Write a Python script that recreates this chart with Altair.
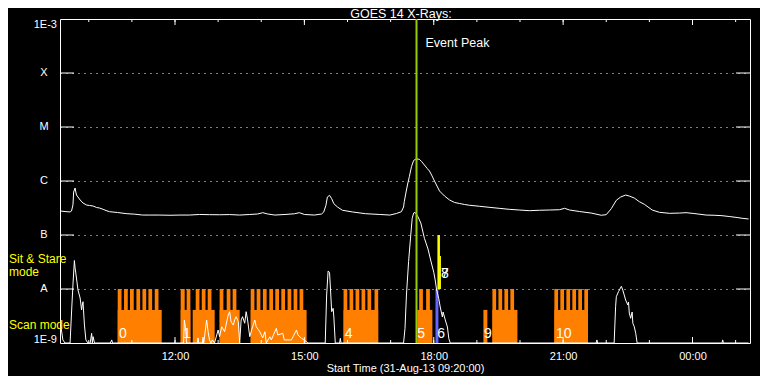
import altair as alt
import pandas as pd

# ---------------- data (time = minutes after 31-Aug-13 09:20:00, flux in W/m^2) -------------
long_t = [1, 7, 14, 16, 18, 19, 21, 22, 23, 28, 32, 37, 41, 46, 51, 55, 60, 64, 69, 80, 93, 104,
          115, 125, 139, 153, 167, 180, 194, 208, 222, 236, 250, 264, 275, 282, 289, 299, 313, 326,
          333, 340, 354, 364, 367, 370, 372, 375, 378, 381, 386, 393, 407, 425, 445, 459, 468, 475,
          478, 479, 482, 484, 486, 489, 492, 495, 498, 500, 503, 507, 511, 514, 517, 521, 528, 535,
          542, 549, 556, 563, 570, 584, 597, 611, 625, 639, 653, 667, 681, 695, 702, 709, 723, 739,
          753, 760, 767, 774, 780, 787, 792, 799, 806, 813, 824, 834, 848, 862, 871, 882, 899, 910,
          921, 931, 942, 949, 958]
long_f = [2.78e-7, 2.72e-7, 2.67e-7, 2.78e-7, 3.59e-7, 6.25e-7, 7.42e-7, 6.25e-7, 5.50e-7, 4.45e-7,
          3.91e-7, 3.59e-7, 3.52e-7, 3.44e-7, 3.23e-7, 3.16e-7, 2.99e-7, 2.84e-7, 2.70e-7, 2.61e-7,
          2.48e-7, 2.43e-7, 2.34e-7, 2.34e-7, 2.34e-7, 2.32e-7, 2.34e-7, 2.34e-7, 2.40e-7, 2.38e-7,
          2.37e-7, 2.39e-7, 2.34e-7, 2.40e-7, 2.45e-7, 2.59e-7, 2.45e-7, 2.34e-7, 2.40e-7, 2.47e-7,
          2.59e-7, 2.40e-7, 2.34e-7, 2.45e-7, 2.67e-7, 3.55e-7, 5.05e-7, 5.43e-7, 4.70e-7, 3.80e-7,
          3.30e-7, 2.87e-7, 2.67e-7, 2.48e-7, 2.40e-7, 2.34e-7, 2.50e-7, 2.70e-7, 3.30e-7, 4.14e-7,
          6.81e-7, 9.18e-7, 1.20e-6, 1.84e-6, 2.40e-6, 2.55e-6, 2.55e-6, 2.52e-6, 2.30e-6, 1.98e-6,
          1.70e-6, 1.53e-6, 1.29e-6, 1.00e-6, 6.53e-7, 5.27e-7, 4.45e-7, 4.00e-7, 3.83e-7, 3.67e-7,
          3.55e-7, 3.40e-7, 3.26e-7, 3.12e-7, 2.99e-7, 2.90e-7, 2.82e-7, 2.87e-7, 2.90e-7, 2.94e-7,
          3.12e-7, 2.90e-7, 2.72e-7, 2.55e-7, 2.32e-7, 2.38e-7, 3.07e-7, 4.39e-7, 5.05e-7, 5.50e-7,
          5.27e-7, 4.84e-7, 4.14e-7, 3.70e-7, 2.90e-7, 2.63e-7, 2.52e-7, 2.55e-7, 2.59e-7, 2.50e-7,
          2.34e-7, 2.32e-7, 2.28e-7, 2.20e-7, 2.11e-7, 2.04e-7, 1.98e-7]

short_t = [1, 2, 4, 7, 14, 16, 18, 20, 21, 22, 25, 28, 30, 31, 32, 34, 36, 39, 42, 44, 45, 46, 48,
           70, 72, 73, 172, 173, 175, 176, 191, 192, 193, 198, 199, 200, 204, 206, 208, 210, 212,
           215, 220, 222, 225, 229, 231, 234, 236, 238, 241, 243, 245, 248, 250, 252, 254, 257, 259,
           261, 264, 268, 271, 273, 278, 282, 285, 287, 292, 294, 301, 303, 310, 312, 322, 329, 331,
           336, 340, 345, 369, 371, 373, 375, 376, 378, 380, 381, 383, 389, 390, 391, 478, 480, 482,
           485, 488, 490, 492, 494, 498, 502, 507, 512, 516, 520, 522, 524, 527, 529, 532, 533, 536,
           539, 541, 543, 746, 747, 748, 771, 773, 774, 777, 781, 783, 785, 787, 790, 791, 792, 794,
           796, 797, 799, 801, 803, 921, 922, 923, 958]
short_f = [2.15e-9, 1.74e-9, 1.14e-9, 1.0e-9, 1.0e-9, 3.59e-9, 1.19e-8, 3.37e-8, 2.45e-8, 1.98e-8,
           9.58e-9, 6.81e-9, 4.08e-9, 5.05e-9, 5.82e-9, 2.15e-9, 1.14e-9, 1.0e-9, 1.0e-9, 1.51e-9,
           1.0e-9, 1.31e-9, 1.0e-9, 1.0e-9, 1.14e-9, 1.0e-9, 1.0e-9, 2.67e-9, 1.74e-9, 1.0e-9,
           1.0e-9, 1.24e-9, 1.0e-9, 1.0e-9, 1.29e-9, 1.0e-9, 2.67e-9, 1.62e-9, 1.14e-9, 1.0e-9,
           1.14e-9, 1.0e-9, 1.74e-9, 1.31e-9, 2.0e-9, 1.62e-9, 2.15e-9, 3.30e-9, 3.80e-9, 2.48e-9,
           2.15e-9, 2.67e-9, 3.07e-9, 2.48e-9, 1.0e-9, 2.67e-9, 3.07e-9, 2.32e-9, 3.80e-9, 2.67e-9,
           1.31e-9, 2.0e-9, 2.67e-9, 2.0e-9, 1.62e-9, 1.24e-9, 1.62e-9, 1.0e-9, 1.31e-9, 1.14e-9,
           1.87e-9, 1.41e-9, 1.51e-9, 1.14e-9, 1.14e-9, 1.74e-9, 1.41e-9, 1.22e-9, 1.14e-9, 1.0e-9,
           1.0e-9, 7.74e-9, 2.15e-8, 2.04e-8, 1.19e-8, 3.80e-9, 4.39e-9, 3.03e-9, 1.0e-9, 1.0e-9,
           1.22e-9, 1.0e-9, 1.0e-9, 1.87e-9, 7.74e-9, 3.24e-8, 1.0e-7, 2.04e-7, 2.55e-7, 2.62e-7,
           2.18e-7, 1.67e-7, 8.69e-8, 5.50e-8, 3.30e-8, 2.04e-8, 1.47e-8, 9.58e-9, 6.61e-9, 4.64e-9,
           3.03e-9, 3.75e-9, 2.67e-9, 1.98e-9, 1.20e-9, 1.0e-9, 1.0e-9, 1.14e-9, 1.0e-9, 1.0e-9,
           4.70e-9, 7.20e-9, 8.91e-9, 1.12e-8, 9.58e-9, 7.74e-9, 6.25e-9, 5.05e-9, 5.75e-9, 3.59e-9,
           2.87e-9, 3.75e-9, 2.32e-9, 2.0e-9, 1.51e-9, 1.0e-9, 1.0e-9, 1.14e-9, 1.0e-9, 1.0e-9]

# scan-mode rasters: low "base" blocks and tall step bars (start, end in minutes)
scan_base_start = [80.3, 167.9, 184.6, 222.1, 265.3, 394.5, 497.2, 589.1, 601.6, 687.8]
scan_base_end = [141.5, 181.4, 215.2, 250.0, 343.1, 442.7, 518.1, 594.6, 636.4, 734.6]
scan_tall_start = [80.3, 89.1, 97.4, 106.3, 114.7, 123.0, 131.8,
                   167.9, 176.2, 188.8, 197.2, 205.5, 222.1, 231.9, 240.2,
                   265.3, 273.6, 282.3, 291.2, 299.5, 307.9, 316.6, 325.0, 333.3,
                   394.5, 402.8, 411.2, 419.5, 427.8, 437.6,
                   499.7, 509.4,
                   601.6, 610.0, 618.3, 626.6,
                   687.8, 696.1, 704.5, 712.8, 721.1, 729.5]
scan_tall_end = [85.6, 94.3, 102.6, 111.5, 119.9, 128.2, 137.0,
                 173.5, 181.4, 194.0, 202.4, 210.7, 227.3, 237.1, 245.4,
                 270.5, 278.8, 287.5, 296.4, 304.7, 313.1, 321.8, 330.2, 338.5,
                 399.7, 408.0, 416.4, 424.7, 433.0, 442.7,
                 504.9, 514.6,
                 606.8, 615.2, 623.5, 631.8,
                 693.0, 701.3, 709.7, 718.0, 726.3, 734.6]
blue_start, blue_end = [522.4], [526.5]
ss_start = [525.1, 527.9]
ss_end = [528.6, 530.0]
ss_top = [1.0e-7, 4.08e-8]

FLOOR, BASE_TOP, SCAN_TOP = 1e-9, 4.1e-9, 1e-8

raster_labels = ["0", "1", "4", "5", "6", "9", "10"]
raster_label_t = [82, 171, 396, 497, 525, 590, 690]
ss_labels = ["7", "8"]
ss_label_t = [530, 530]

peak_t = [496]

class_levels = [1e-9, 1e-8, 1e-7, 1e-6, 1e-5, 1e-4, 1e-3]
class_names = ["1E-9", "A", "B", "C", "M", "X", "1E-3"]

hour_ticks = [40, 100, 160, 220, 280, 340, 400, 460, 520, 580, 640, 700, 760, 820, 880, 940]
major_ticks = [160, 340, 520, 700, 880]
major_labels = ["12:00", "15:00", "18:00", "21:00", "00:00"]

# ---------------- styling ----------------
F = "Liberation Sans"
ORANGE = "#ff8000"
BLUE = "#6464ff"
YELLOW = "#ffff00"
GREEN = "#99cc00"
W, H = 690, 324

label_expr = "".join(f"datum.value == {v} ? '{l}' : " for v, l in zip(major_ticks, major_labels)) + "''"

xs = alt.Scale(domain=[0, 960], nice=False, zero=False)
ys = alt.Scale(type="log", domain=[1e-9, 1e-3], nice=False)
xa = alt.Axis(values=major_ticks, labelExpr=label_expr, ticks=False, domain=False, grid=False,
              labelColor="white", labelFont=F, labelFontSize=11, labelPadding=7,
              labelFlush=False, title="Start Time (31-Aug-13 09:20:00)", titleColor="white",
              titleFont=F, titleFontSize=11, titleFontWeight="normal", titlePadding=1)
ya = alt.Axis(values=class_levels[1:-1], grid=True, gridDash=[1, 5], gridColor="white",
              gridOpacity=1, labels=False, ticks=False, domain=False, title=None)


def X(f):
    return alt.X(f, type="quantitative", scale=xs, axis=xa)


def Y(f):
    return alt.Y(f, type="quantitative", scale=ys, axis=ya)


df_long = pd.DataFrame({"t": long_t, "f": long_f})
df_short = pd.DataFrame({"t": short_t, "f": short_f})
df_base = pd.DataFrame({"t0": scan_base_start, "t1": scan_base_end, "lo": FLOOR, "hi": BASE_TOP})
df_tall = pd.DataFrame({"t0": scan_tall_start, "t1": scan_tall_end, "lo": FLOOR, "hi": SCAN_TOP})
df_blue = pd.DataFrame({"t0": blue_start, "t1": blue_end, "lo": FLOOR, "hi": SCAN_TOP})
df_ss = pd.DataFrame({"t0": ss_start, "t1": ss_end, "lo": SCAN_TOP, "hi": ss_top})
df_rl = pd.DataFrame({"t": raster_label_t, "label": raster_labels})
df_sl = pd.DataFrame({"t": ss_label_t, "label": ss_labels})
df_peak = pd.DataFrame({"t": peak_t, "label": ["Event Peak"]})
df_cls = pd.DataFrame({"level": class_levels, "name": class_names})
df_letters = df_cls.iloc[1:-1]
df_top = df_cls.iloc[[-1]]
df_bot = df_cls.iloc[[0]]
df_hours = pd.DataFrame({"t": hour_ticks})
df_major = pd.DataFrame({"t": major_ticks})


def rects(df, color):
    return alt.Chart(df).mark_rect(color=color).encode(
        x=X("t0"), x2="t1", y=Y("lo"), y2="hi")


layers = [
    rects(df_base, ORANGE),
    rects(df_tall, ORANGE),
    rects(df_blue, BLUE),
    rects(df_ss, YELLOW),
    alt.Chart(df_short).mark_line(color="white", strokeWidth=1).encode(x=X("t"), y=Y("f")),
    alt.Chart(df_long).mark_line(color="white", strokeWidth=1).encode(x=X("t"), y=Y("f")),
    alt.Chart(df_peak).mark_rule(color=GREEN, strokeWidth=2).encode(x=X("t")),
    alt.Chart(df_peak).mark_text(align="left", baseline="alphabetic", dx=9, color="white",
                                 font=F, fontSize=12.5).encode(
        x=X("t"), y=alt.value(28), text="label:N"),
    # class ticks on left / right borders
    alt.Chart(df_letters).mark_rule(color="white").encode(y=Y("level"), x=alt.value(0), x2=alt.value(14)),
    alt.Chart(df_letters).mark_rule(color="white").encode(y=Y("level"), x=alt.value(W - 14), x2=alt.value(W)),
    # hour ticks on top / bottom borders
    alt.Chart(df_hours).mark_rule(color="white").encode(x=X("t"), y=alt.value(0), y2=alt.value(3)),
    alt.Chart(df_hours).mark_rule(color="white").encode(x=X("t"), y=alt.value(H), y2=alt.value(H - 3)),
    alt.Chart(df_major).mark_rule(color="white").encode(x=X("t"), y=alt.value(0), y2=alt.value(6)),
    alt.Chart(df_major).mark_rule(color="white").encode(x=X("t"), y=alt.value(H), y2=alt.value(H - 6)),
    # class labels
    alt.Chart(df_letters).mark_text(align="center", baseline="middle", color="white", font=F,
                                    fontSize=11).encode(y=Y("level"), x=alt.value(-16), text="name:N"),
    alt.Chart(df_top).mark_text(align="right", baseline="top", color="white", font=F,
                                fontSize=11).encode(y=Y("level"), x=alt.value(-3), text="name:N"),
    alt.Chart(df_bot).mark_text(align="right", baseline="alphabetic", color="white", font=F,
                                fontSize=11).encode(y=Y("level"), x=alt.value(-3), text="name:N"),
    # raster numbers
    alt.Chart(df_rl).mark_text(align="left", baseline="alphabetic", color="white", font=F,
                               fontSize=14, fontWeight=300).encode(
        x=X("t"), y=alt.value(319), text="label:N"),
    alt.Chart(df_sl).mark_text(align="left", baseline="alphabetic", color="white", font=F,
                               fontSize=14, fontWeight=300).encode(
        x=X("t"), y=alt.value(259), text="label:N"),
    # mode labels
    alt.Chart(pd.DataFrame({"label": ["Sit & Stare"]})).mark_text(
        align="left", baseline="alphabetic", color=YELLOW, font=F, fontSize=12).encode(
        x=alt.value(-51), y=alt.value(244), text="label:N"),
    alt.Chart(pd.DataFrame({"label": ["mode"]})).mark_text(
        align="center", baseline="alphabetic", color=YELLOW, font=F, fontSize=12).encode(
        x=alt.value(-36), y=alt.value(257), text="label:N"),
    alt.Chart(pd.DataFrame({"label": ["Scan mode"]})).mark_text(
        align="left", baseline="alphabetic", color=YELLOW, font=F, fontSize=12).encode(
        x=alt.value(-51), y=alt.value(310), text="label:N"),
    # title
    alt.Chart(pd.DataFrame({"label": ["GOES 14 X-Rays:"]})).mark_text(
        align="center", baseline="alphabetic", color="white", font=F, fontSize=12.5).encode(
        x=alt.value(W / 2 - 4), y=alt.value(-1.5), text="label:N"),
]

chart = alt.layer(*layers).properties(
    width=W, height=H,
    padding={"left": 52, "top": 11, "right": 10, "bottom": 33},
    autosize=alt.AutoSizeParams(type="none"),
    background="black",
).configure_view(stroke="white", strokeWidth=1)

chart.save("out.html", embed_options={"renderer": "svg", "actions": False})
